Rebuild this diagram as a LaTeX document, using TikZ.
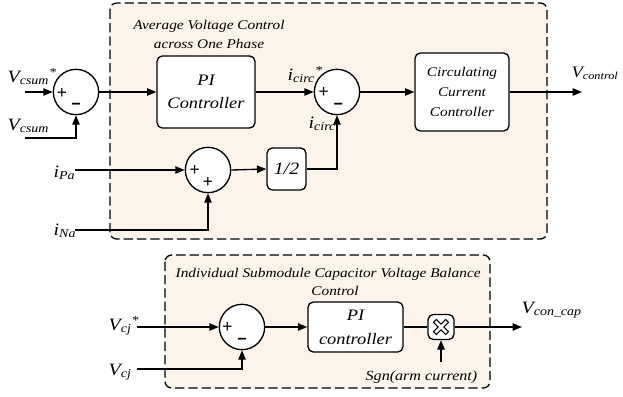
\documentclass[tikz,border=0pt]{standalone}
\usepackage{fontspec}
\setmainfont{Liberation Serif}[FakeStretch=1.15]
\newfontfamily\signfont{Liberation Sans}
\usetikzlibrary{arrows.meta}
\definecolor{peach}{RGB}{252,243,235}
\begin{document}
\begin{tikzpicture}[x=0.75pt,y=-0.75pt,
  line width=1pt,
  arr/.style={-{Triangle[length=7pt,width=5.5pt]}},
  sumj/.style={circle,draw,fill=white,minimum size=34pt,inner sep=0pt},
  blk/.style={draw,fill=white,rounded corners=4pt,align=center,inner sep=0pt,font=\itshape\fontsize{12}{17}\selectfont},
  grp/.style={draw,dash pattern=on 7pt off 3pt,fill=peach,rounded corners=5pt},
  lbl/.style={font=\itshape\fontsize{13}{15}\selectfont,inner sep=0pt,anchor=base west},
  ttl/.style={font=\itshape\fontsize{10}{14}\selectfont,inner sep=0pt,anchor=base},
  sgn/.style={font=\signfont\fontsize{13}{14}\selectfont,inner sep=0pt},
  mns/.style={font=\signfont\bfseries\fontsize{12}{13}\selectfont,inner sep=0pt}
]
\useasboundingbox (0,0) rectangle (623,396);
% group boxes
\draw[grp] (110,3) rectangle (547,239);
\draw[grp] (165,255) rectangle (490,388);
% blocks
\node[sumj] (s1) at (76,92) {};
\node[blk,minimum width=73.5pt,minimum height=54pt] (pi1) at (206,92) {PI\\Controller};
\node[sumj] (s2) at (337,92) {};
\node[blk,minimum width=70.5pt,minimum height=58.5pt,font=\itshape\fontsize{10}{15}\selectfont] (ccc) at (462,92) {Circulating\\Current\\Controller};
\node[sumj] (s3) at (208,170) {};
\node[blk,minimum width=29.25pt,minimum height=31.5pt,font=\itshape\fontsize{13}{15}\selectfont] (half) at (286.5,169) {1/2};
\node[sumj] (s4) at (242,327) {};
\node[blk,minimum width=71.25pt,minimum height=37.5pt,font=\itshape\fontsize{12}{18}\selectfont] (pi2) at (355.5,327) {PI\\controller};
\node[draw,fill=white,rounded corners=4pt,minimum width=19.5pt,minimum height=18.75pt,inner sep=0pt] (mult) at (441,327) {};
\begin{scope}[shift={(mult.center)}]
\draw[line width=0.8pt,fill=white] (-7.5,-4.7) -- (-4.7,-7.5) -- (0,-2.8) -- (4.7,-7.5) -- (7.5,-4.7) -- (2.8,0) -- (7.5,4.7) -- (4.7,7.5) -- (0,2.8) -- (-4.7,7.5) -- (-7.5,4.7) -- (-2.8,0) -- cycle;
\end{scope}
% signs
\node[sgn] at ([xshift=-10.5pt,yshift=-1pt]s1.center) {+};
\node[mns] at ([yshift=-11pt]s1.center) {−};
\node[sgn] at ([xshift=-10pt,yshift=-0.5pt]s2.center) {+};
\node[mns] at ([xshift=1pt,yshift=-10.5pt]s2.center) {−};
\node[sgn] at ([xshift=-10pt]s3.center) {+};
\node[sgn] at ([yshift=-9.5pt]s3.center) {+};
\node[sgn] at ([xshift=-11pt,yshift=-0.5pt]s4.center) {+};
\node[mns] at ([yshift=-11pt]s4.center) {−};
% free ends
\coordinate (in1) at (25,92);
\coordinate (in2) at (25,138);
\coordinate (ipa) at (75,170);
\coordinate (ina) at (75,230);
\coordinate (out1) at (582,92);
\coordinate (vcjs) at (137,327);
\coordinate (vcj) at (137,369);
\coordinate (out2) at (522,327);
\coordinate (sg) at (441,362);
% connectors
\draw[arr] (in1) -- (s1.west);
\draw[arr] (in2) -| (s1.south);
\draw[arr] (s1.east) -- (pi1.west);
\draw[arr] (pi1.east) -- (s2.west);
\draw[arr] (ipa) -- (s3.west);
\draw[arr] (ina) -| (s3.south);
\draw[arr] (s3.east) -- (half.west);
\draw[arr] (half.east) -| (s2.south);
\draw[arr] (s2.east) -- (ccc.west);
\draw[arr] (ccc.east) -- (out1);
\draw[arr] (vcjs) -- (s4.west);
\draw[arr] (vcj) -| (s4.south);
\draw[arr] (s4.east) -- (pi2.west);
\draw (pi2.east) -- (mult.west);
\draw[arr] (mult.east) -- (out2);
\draw[arr] (sg) -- (mult.south);
% labels
\node[lbl] (lvcs) at (7,82) {V\textsubscript{csum}\textsuperscript{*}};
\node[lbl] (lvc) at (7,130) {V\textsubscript{csum}};
\node[lbl] (lipa) at (53,177) {i\textsubscript{Pa}};
\node[lbl] (lina) at (53,235) {i\textsubscript{Na}};
\node[lbl] (lics) at (287,80) {i\textsubscript{circ}\textsuperscript{*}};
\node[lbl] (lic) at (308,128) {i\textsubscript{circ}};
\node[lbl,font=\itshape\fontsize{12}{14}\selectfont] (lvo) at (571,77) {V\textsubscript{control}};
\node[lbl] (lvcc) at (521,313) {V\textsubscript{con\_cap}};
\node[lbl] (lvcjs) at (108,330) {V\textsubscript{cj}\textsuperscript{*}};
\node[lbl] (lvcj) at (108,375) {V\textsubscript{cj}};
% titles
\node[ttl] (t1a) at (209,29) {Average Voltage Control};
\node[ttl] (t1b) at (209,48) {across One Phase};
\node[ttl,anchor=base west] (t2a) at (175,277) {Individual Submodule Capacitor Voltage Balance};
\node[ttl] (t2b) at (335,295) {Control};
\node[ttl,anchor=base west,font=\itshape\fontsize{10.5}{12}\selectfont] (sgnl) at (365,380) {Sgn(arm current)};
\end{tikzpicture}
\end{document}
